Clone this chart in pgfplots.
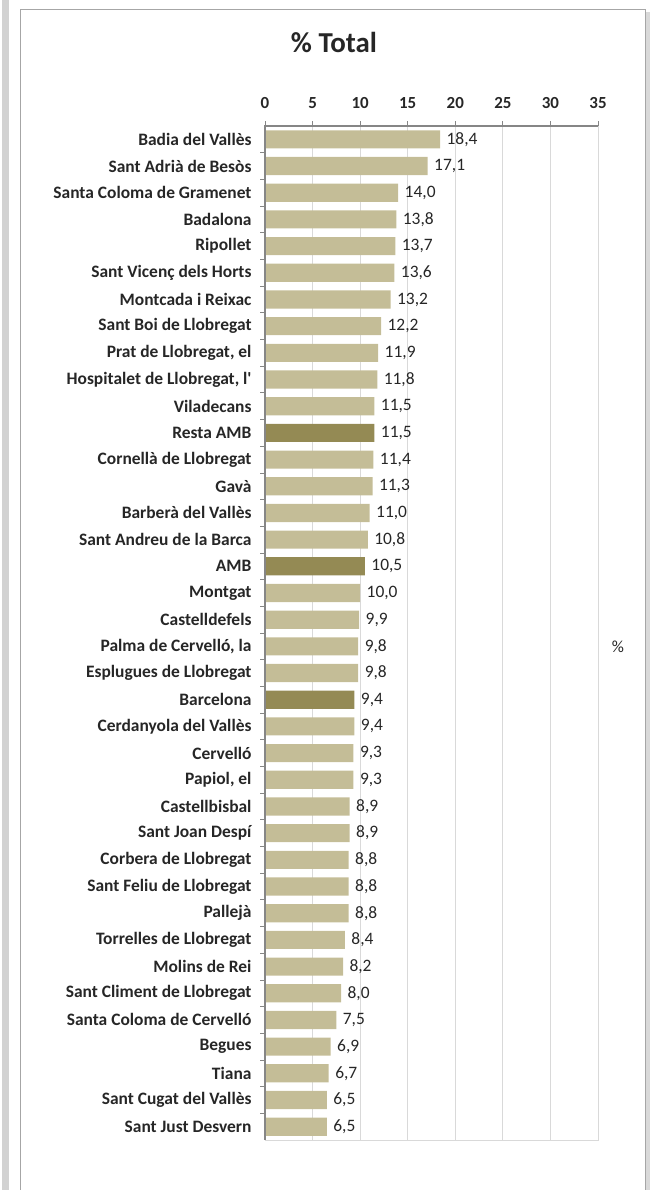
\documentclass[border=0pt]{standalone}
\usepackage{fontspec}
\setmainfont{Carlito}
\usepackage{pgfplots}
\usepackage{pgfplotstable}
\pgfplotsset{compat=1.18}
\definecolor{barTan}{HTML}{C4BD97}
\definecolor{barOlive}{HTML}{948A54}
\definecolor{axGray}{HTML}{868686}
\definecolor{gridGray}{HTML}{D9D9D9}
\definecolor{txt}{HTML}{262626}

% idx 0 = top row
\pgfplotstableread{
idx val
0 18.4
1 17.1
2 14.0
3 13.8
4 13.7
5 13.6
6 13.2
7 12.2
8 11.9
9 11.8
10 11.5
12 11.4
13 11.3
14 11.0
15 10.8
17 10.0
18 9.9
19 9.8
20 9.8
22 9.4
23 9.3
24 9.3
25 8.9
26 8.9
27 8.8
28 8.8
29 8.8
30 8.4
31 8.2
32 8.0
33 7.5
34 6.9
35 6.7
36 6.5
37 6.5
}\municipis

\pgfplotstableread{
idx val
11 11.5
16 10.5
21 9.4
}\agregats

\begin{document}
\begin{tikzpicture}[x=1bp,y=1bp]
\useasboundingbox (0,0) rectangle (652,-1190);
% chart frame
\fill[gray!35] (2,0) rectangle (9,-1190);
\draw[gray!70,line width=0.8bp] (20,-9) -- (645,-9) -- (645,-1195);
\draw[gray!70,line width=0.8bp] (20,-9) -- (20,-1195);
\fill[gray!30] (646,-12) rectangle (650,-1190);
\node[font=\fontsize{29}{32}\selectfont\bfseries,text=txt] at (334,-42) {\% Total};
\node[font=\fontsize{17}{20}\selectfont,text=txt] at (618,-647) {\%};

\begin{axis}[
  at={(265bp,-126bp)}, anchor=north west,
  scale only axis, width=333bp, height=1014bp,
  xmin=0, xmax=35, xtick={0,5,...,35},
  xtick pos=right, xticklabel pos=right,
  ymin=-0.5, ymax=37.5, y dir=reverse,
  ytick={0,...,37}, ytick pos=left,
  minor y tick num=1,
  tick align=outside,
  major y tick style={draw=none},
  minor tick length=5bp, major tick length=5bp,
  tick style={axGray, line width=0.8bp},
  yticklabels={Badia del Vallès, Sant Adrià de Besòs, Santa Coloma de Gramenet, Badalona, Ripollet, Sant Vicenç dels Horts, Montcada i Reixac, Sant Boi de Llobregat, {Prat de Llobregat, el}, {Hospitalet de Llobregat, l\textquotesingle}, Viladecans, Resta AMB, Cornellà de Llobregat, Gavà, Barberà del Vallès, Sant Andreu de la Barca, AMB, Montgat, Castelldefels, {Palma de Cervelló, la}, Esplugues de Llobregat, Barcelona, Cerdanyola del Vallès, Cervelló, {Papiol, el}, Castellbisbal, Sant Joan Despí, Corbera de Llobregat, Sant Feliu de Llobregat, Pallejà, Torrelles de Llobregat, Molins de Rei, Sant Climent de Llobregat, Santa Coloma de Cervelló, Begues, Tiana, Sant Cugat del Vallès, Sant Just Desvern},
  yticklabel style={font=\fontsize{17.5}{20}\selectfont\bfseries, text=txt, xshift=-5bp},
  xticklabel style={font=\fontsize{17}{20}\selectfont\bfseries, text=txt, yshift=9bp},
  /pgf/number format/assume math mode=true,
  xmajorgrids, grid style={gridGray, line width=0.8bp},
  axis line style={gridGray, line width=0.8bp},
  xbar, bar width=0.68, bar shift=0,
  point meta=x,
  nodes near coords={\pgfmathprintnumber[fixed,fixed zerofill,precision=1,use comma]{\pgfplotspointmeta}},
  nodes near coords style={font=\fontsize{17.5}{20}\selectfont, text=txt, anchor=west, xshift=3bp},
  after end axis/.code={
    \draw[axGray, line width=1.5bp] (rel axis cs:0,0) -- (rel axis cs:0,1) -- (rel axis cs:1,1);
  },
]
\addplot[draw=none, fill=barTan] table[x=val, y=idx] {\municipis};
\addplot[draw=none, fill=barOlive] table[x=val, y=idx] {\agregats};
\end{axis}
\end{tikzpicture}
\end{document}
